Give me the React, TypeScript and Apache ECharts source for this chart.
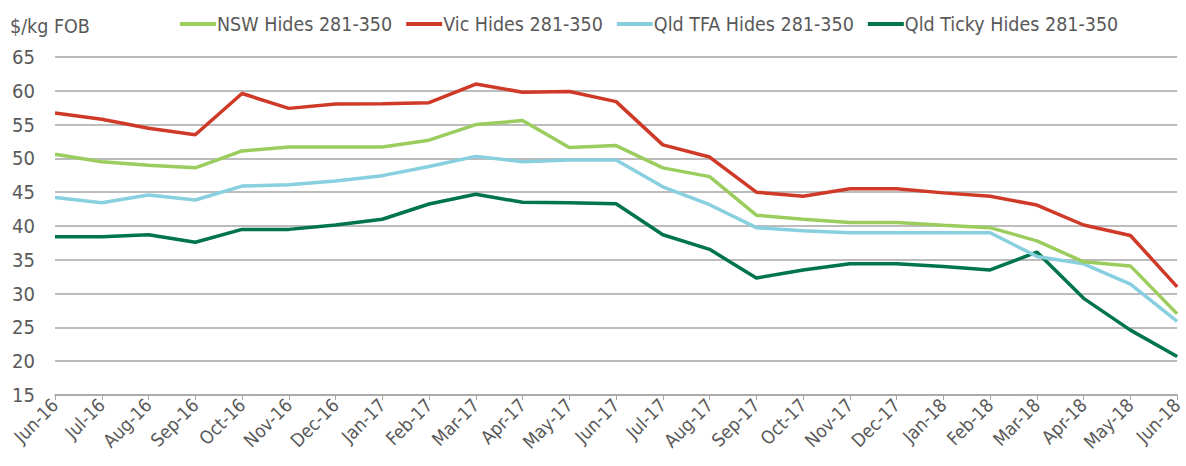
import React, { useEffect, useRef } from "react";
import * as echarts from "echarts";

const categories = [
  "Jun-16", "Jul-16", "Aug-16", "Sep-16", "Oct-16", "Nov-16", "Dec-16", "Jan-17", "Feb-17",
  "Mar-17", "Apr-17", "May-17", "Jun-17", "Jul-17", "Aug-17", "Sep-17", "Oct-17", "Nov-17",
  "Dec-17", "Jan-18", "Feb-18", "Mar-18", "Apr-18", "May-18", "Jun-18",
];

const nswHides = [50.6, 49.5, 49.0, 48.6, 51.1, 51.7, 51.7, 51.7, 52.7, 55.0, 55.6, 51.6, 51.9, 48.6, 47.3, 41.6, 41.0, 40.5, 40.5, 40.1, 39.75, 37.8, 34.7, 34.1, 27.0];
const vicHides = [56.7, 55.8, 54.45, 53.5, 59.6, 57.4, 58.05, 58.1, 58.25, 61.0, 59.8, 59.9, 58.4, 52.0, 50.2, 45.0, 44.4, 45.5, 45.5, 44.9, 44.4, 43.1, 40.15, 38.6, 31.0];
const qldTfaHides = [44.2, 43.45, 44.6, 43.85, 45.9, 46.1, 46.65, 47.45, 48.8, 50.3, 49.5, 49.75, 49.75, 45.8, 43.15, 39.75, 39.3, 39.0, 39.0, 39.0, 39.0, 35.5, 34.4, 31.4, 25.9];
const qldTickyHides = [38.4, 38.4, 38.7, 37.6, 39.5, 39.5, 40.15, 41.0, 43.25, 44.7, 43.5, 43.45, 43.3, 38.7, 36.55, 32.3, 33.5, 34.4, 34.4, 34.0, 33.5, 36.15, 29.3, 24.6, 20.7];

const seriesNames = ["NSW Hides 281-350", "Vic Hides 281-350", "Qld TFA Hides 281-350", "Qld Ticky Hides 281-350"];
const seriesColors = ["#9ACD5E", "#CF3A28", "#88CFDF", "#00744A"];

const FONT = "'DejaVu Sans Condensed', 'Noto Sans', sans-serif";

export default function App() {
  const ref = useRef<HTMLDivElement>(null);
  useEffect(() => {
    if (!ref.current) return;
    const chart = echarts.init(ref.current, null, { renderer: "svg" });
    const data = [nswHides, vicHides, qldTfaHides, qldTickyHides];
    chart.setOption({
      animation: false,
      textStyle: { fontFamily: FONT },
      legend: {
        left: 175,
        top: 9,
        itemWidth: 36,
        itemHeight: 4,
        itemGap: 14,
        icon: "rect",
        textStyle: { color: "#595959", fontSize: 19.5, fontFamily: FONT, padding: [0, 0, 0, -4] },
        data: seriesNames,
      },
      grid: { left: 55, right: 4, top: 57, bottom: 71, containLabel: false },
      xAxis: {
        type: "category",
        data: categories,
        boundaryGap: false,
        axisLine: { lineStyle: { color: "#A6A6A6", width: 1.5 } },
        axisTick: { show: true, length: 5, lineStyle: { color: "#A6A6A6" } },
        axisLabel: { rotate: 45, color: "#595959", fontSize: 18.5, margin: 7, interval: 0, fontFamily: FONT },
      },
      yAxis: {
        type: "value",
        min: 15,
        max: 65,
        interval: 5,
        name: "$/kg FOB",
        nameLocation: "end",
        nameGap: 21,
        nameTextStyle: { color: "#595959", fontSize: 19.5, align: "left", padding: [0, 0, 0, -45], fontFamily: FONT },
        axisLine: { show: false },
        axisTick: { show: false },
        axisLabel: { color: "#595959", fontSize: 20, margin: 20, fontFamily: FONT },
        splitLine: { lineStyle: { color: "#A6A6A6", width: 1.5 } },
      },
      series: seriesNames.map((name, i) => ({
        name,
        type: "line",
        data: data[i],
        symbol: "none",
        lineStyle: { color: seriesColors[i], width: 3.5 },
        itemStyle: { color: seriesColors[i] },
        z: 10 - i,
      })),
    });
    return () => chart.dispose();
  }, []);
  return <div ref={ref} style={{ width: 1186, height: 466, position: "absolute", left: 0, top: 0 }} />;
}
